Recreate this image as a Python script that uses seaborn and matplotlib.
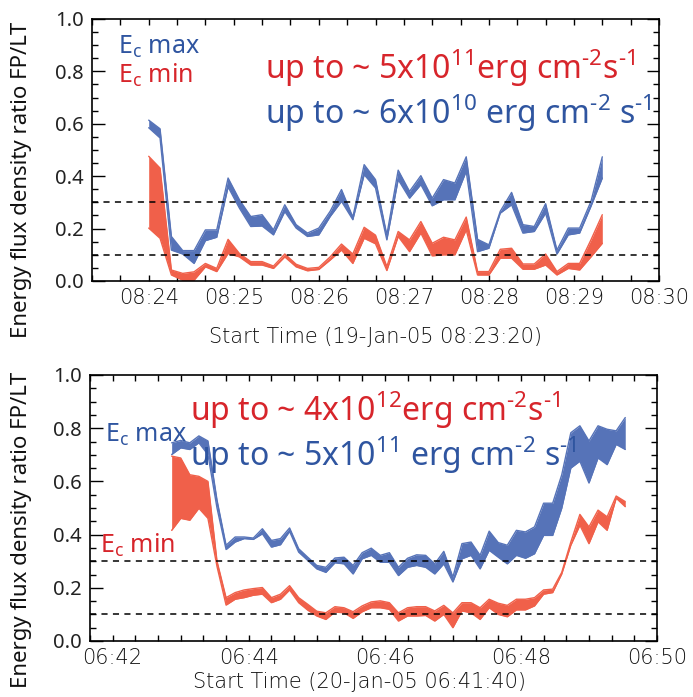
import numpy as np
import pandas as pd
import matplotlib
matplotlib.use("Agg")
import matplotlib.pyplot as plt
import matplotlib.dates as mdates
from matplotlib.ticker import MultipleLocator, FormatStrFormatter
import seaborn as sns

# ---------------- data ----------------
# top panel: 19-Jan-05, 8 s cadence starting 08:24:00
top_start = "2005-01-19 08:24:00"
top_n = 41
top_xlim = ("2005-01-19 08:23:20", "2005-01-19 08:30:00")
top_max_hi = [0.614, 0.581, 0.17, 0.116, 0.116, 0.195, 0.195, 0.393, 0.31, 0.246, 0.253,
              0.195, 0.291, 0.215, 0.183, 0.202, 0.266, 0.349, 0.244, 0.444, 0.387,
              0.176, 0.423, 0.342, 0.402, 0.316, 0.387, 0.374, 0.474, 0.159, 0.138,
              0.266, 0.338, 0.215, 0.208, 0.295, 0.118, 0.202, 0.202, 0.304, 0.474]
top_max_lo = [0.585, 0.546, 0.118, 0.103, 0.067, 0.154, 0.167, 0.359, 0.278, 0.208, 0.210,
              0.176, 0.265, 0.202, 0.170, 0.176, 0.246, 0.304, 0.234, 0.406, 0.355,
              0.157, 0.387, 0.316, 0.368, 0.287, 0.310, 0.310, 0.419, 0.112, 0.125,
              0.259, 0.291, 0.183, 0.189, 0.259, 0.103, 0.176, 0.183, 0.285, 0.393]
top_min_hi = [0.476, 0.431, 0.042, 0.029, 0.035, 0.067, 0.048, 0.159, 0.105, 0.074, 0.074,
              0.057, 0.103, 0.064, 0.048, 0.052, 0.092, 0.141, 0.103, 0.205, 0.175,
              0.055, 0.189, 0.157, 0.227, 0.144, 0.167, 0.157, 0.244, 0.036, 0.036,
              0.121, 0.125, 0.065, 0.065, 0.103, 0.036, 0.067, 0.067, 0.157, 0.253]
top_min_lo = [0.202, 0.163, 0.023, 0.003, 0.003, 0.054, 0.036, 0.105, 0.092, 0.061, 0.061,
              0.048, 0.092, 0.054, 0.039, 0.044, 0.080, 0.118, 0.067, 0.163, 0.142,
              0.040, 0.170, 0.112, 0.183, 0.096, 0.100, 0.100, 0.195, 0.023, 0.023,
              0.087, 0.087, 0.045, 0.045, 0.061, 0.023, 0.048, 0.042, 0.092, 0.144]

# bottom panel: 20-Jan-05, 8 s cadence starting 06:42:52
bot_start = "2005-01-20 06:42:52"
bot_n = 51
bot_xlim = ("2005-01-20 06:41:40", "2005-01-20 06:50:00")
bot_max_hi = [0.745, 0.754, 0.745, 0.771, 0.752, 0.53, 0.360, 0.391, 0.391, 0.387,
              0.422, 0.378, 0.385, 0.425, 0.347, 0.315, 0.284, 0.277, 0.312, 0.315,
              0.284, 0.332, 0.349, 0.322, 0.332, 0.277, 0.311, 0.324, 0.322, 0.290,
              0.337, 0.240, 0.366, 0.372, 0.322, 0.413, 0.370, 0.360, 0.416, 0.410,
              0.429, 0.518, 0.518, 0.625, 0.783, 0.809, 0.752, 0.809, 0.796, 0.790, 0.840]
bot_max_lo = [0.701, 0.726, 0.720, 0.745, 0.701, 0.50, 0.344, 0.372, 0.385, 0.382,
              0.403, 0.353, 0.362, 0.412, 0.334, 0.303, 0.271, 0.258, 0.294, 0.290,
              0.252, 0.309, 0.322, 0.296, 0.296, 0.246, 0.277, 0.284, 0.277, 0.252,
              0.290, 0.222, 0.309, 0.322, 0.271, 0.341, 0.315, 0.290, 0.322, 0.311,
              0.328, 0.397, 0.397, 0.499, 0.650, 0.676, 0.594, 0.688, 0.663, 0.739, 0.720]
bot_min_hi = [0.695, 0.688, 0.625, 0.619, 0.600, 0.30, 0.163, 0.182, 0.192, 0.197,
              0.201, 0.163, 0.176, 0.208, 0.163, 0.138, 0.112, 0.106, 0.129, 0.125,
              0.110, 0.132, 0.147, 0.151, 0.144, 0.106, 0.125, 0.129, 0.129, 0.113,
              0.134, 0.106, 0.144, 0.144, 0.125, 0.157, 0.142, 0.134, 0.157, 0.157,
              0.163, 0.192, 0.195, 0.258, 0.372, 0.476, 0.429, 0.492, 0.467, 0.545, 0.524]
bot_min_lo = [0.416, 0.461, 0.454, 0.499, 0.461, 0.28, 0.135, 0.157, 0.163, 0.172,
              0.176, 0.144, 0.157, 0.192, 0.144, 0.116, 0.094, 0.081, 0.109, 0.106,
              0.085, 0.110, 0.125, 0.125, 0.119, 0.075, 0.094, 0.094, 0.096, 0.075,
              0.100, 0.050, 0.113, 0.106, 0.081, 0.125, 0.100, 0.091, 0.117, 0.117,
              0.132, 0.176, 0.182, 0.252, 0.360, 0.435, 0.366, 0.448, 0.416, 0.537, 0.505]

ref_levels = [0.1, 0.3]
ylabel = "Energy flux density ratio FP/LT"
top_xlabel = "Start Time (19-Jan-05 08:23:20)"
bot_xlabel = "Start Time (20-Jan-05 06:41:40)"
HY = "\u2010"  # typographic hyphen, as in the original superscripts
top_red_txt = r"up to ~ 5x10$^{11}$erg cm$^{" + HY + r"2}$s$^{" + HY + r"1}$"
top_blue_txt = r"up to ~ 6x10$^{10}$ erg cm$^{" + HY + r"2}$ s$^{" + HY + r"1}$"
bot_red_txt = r"up to ~ 4x10$^{12}$erg cm$^{" + HY + r"2}$s$^{" + HY + r"1}$"
bot_blue_txt = r"up to ~ 5x10$^{11}$ erg cm$^{" + HY + r"2}$ s$^{" + HY + r"1}$"

# ---------------- style ----------------
BLUE_FILL = "#5673b8"
RED_FILL = "#f0604a"
BLUE_TXT = "#2f55a0"
RED_TXT = "#d7252b"

sns.set_theme(style="ticks")
MAIN_FONT = "Noto Sans"
THIN_FONT = "DejaVu Sans"
plt.rcParams['font.family'] = [MAIN_FONT, 'DejaVu Sans']
plt.rcParams['mathtext.fontset'] = 'custom'
plt.rcParams['mathtext.rm'] = MAIN_FONT
plt.rcParams['mathtext.it'] = MAIN_FONT
plt.rcParams['mathtext.bf'] = MAIN_FONT

fig = plt.figure(figsize=(6.93, 6.97), dpi=100)
ax1 = fig.add_axes([92 / 693, 1 - 281 / 697, 567 / 693, 262 / 697])
ax2 = fig.add_axes([90 / 693, 1 - 641 / 697, 567 / 693, 266 / 697])


def draw_band(ax, t, lo, hi, color):
    df = pd.DataFrame({"t": t, "lo": lo, "hi": hi})
    ax.fill_between(df["t"], df["lo"], df["hi"], color=color, lw=0, zorder=2)
    sns.lineplot(data=df, x="t", y="lo", ax=ax, color=color, lw=1.0, zorder=2)
    sns.lineplot(data=df, x="t", y="hi", ax=ax, color=color, lw=1.0, zorder=2)


def style_axes(ax, xlim, major_minutes, xlabel, xlabel_x, xlabel_y, ylabel_x, ylabel_y):
    ax.set_xlim(pd.Timestamp(xlim[0]), pd.Timestamp(xlim[1]))
    ax.set_ylim(0, 1)
    for lev in ref_levels:
        ax.axhline(lev, color="black", lw=1.1, ls=(0, (4, 3.5)), zorder=3)
    ax.xaxis.set_major_locator(mdates.MinuteLocator(byminute=range(0, 60, major_minutes)))
    ax.xaxis.set_minor_locator(mdates.SecondLocator(bysecond=[0, 20, 40]))
    ax.xaxis.set_major_formatter(mdates.DateFormatter("%H:%M"))
    ax.yaxis.set_major_locator(MultipleLocator(0.2))
    ax.yaxis.set_minor_locator(MultipleLocator(0.05))
    ax.yaxis.set_major_formatter(FormatStrFormatter("%.1f"))
    ax.tick_params(which="both", direction="in", top=True, right=True, color="black", width=1.0)
    ax.tick_params(axis="y", which="major", length=9, labelsize=14.5, pad=6, labelcolor="#222222")
    ax.tick_params(axis="y", which="minor", length=4.5)
    ax.tick_params(axis="x", which="both", length=4, labelsize=15, pad=5, labelcolor="#111111")
    for lab in ax.get_xticklabels():
        lab.set_family(THIN_FONT)
        lab.set_fontweight("light")
    for sp in ax.spines.values():
        sp.set_color("black")
        sp.set_linewidth(1.2)
    ax.set_xlabel(xlabel, fontsize=15, family=THIN_FONT, fontweight="light", color="#111111")
    ax.xaxis.set_label_coords(xlabel_x, xlabel_y)
    ax.set_ylabel(ylabel, fontsize=16, color="#111111")
    ax.yaxis.set_label_coords(ylabel_x, ylabel_y)


t_top = pd.date_range(start=top_start, periods=top_n, freq="8s")
t_bot = pd.date_range(start=bot_start, periods=bot_n, freq="8s")

draw_band(ax1, t_top, top_max_lo, top_max_hi, BLUE_FILL)
draw_band(ax1, t_top, top_min_lo, top_min_hi, RED_FILL)
draw_band(ax2, t_bot, bot_max_lo, bot_max_hi, BLUE_FILL)
draw_band(ax2, t_bot, bot_min_lo, bot_min_hi, RED_FILL)

style_axes(ax1, top_xlim, 1, top_xlabel, 0.50, -0.175, -0.106, 0.385)
style_axes(ax2, bot_xlim, 2, bot_xlabel, 0.476, -0.118, -0.102, 0.417)

# annotations
ax1.text(0.046, 0.893, r"E$_{\rm c}$ max", transform=ax1.transAxes, color=BLUE_TXT,
         fontsize=18, va="center", ha="left", zorder=5)
ax1.text(0.046, 0.786, r"E$_{\rm c}$ min", transform=ax1.transAxes, color=RED_TXT,
         fontsize=18, va="center", ha="left", zorder=5)
ax1.text(0.305, 0.81, top_red_txt, transform=ax1.transAxes, color=RED_TXT,
         fontsize=23, va="center", ha="left", zorder=5)
ax1.text(0.305, 0.64, top_blue_txt, transform=ax1.transAxes, color=BLUE_TXT,
         fontsize=23, va="center", ha="left", zorder=5)

ax2.text(0.026, 0.775, r"E$_{\rm c}$ max", transform=ax2.transAxes, color=BLUE_TXT,
         fontsize=18, va="center", ha="left", zorder=5)
ax2.text(0.018, 0.36, r"E$_{\rm c}$ min", transform=ax2.transAxes, color=RED_TXT,
         fontsize=18, va="center", ha="left", zorder=5)
ax2.text(0.176, 0.868, bot_red_txt, transform=ax2.transAxes, color=RED_TXT,
         fontsize=23, va="center", ha="left", zorder=5)
ax2.text(0.176, 0.70, bot_blue_txt, transform=ax2.transAxes, color=BLUE_TXT,
         fontsize=23, va="center", ha="left", zorder=5)

fig.savefig("out.png", dpi=100)
